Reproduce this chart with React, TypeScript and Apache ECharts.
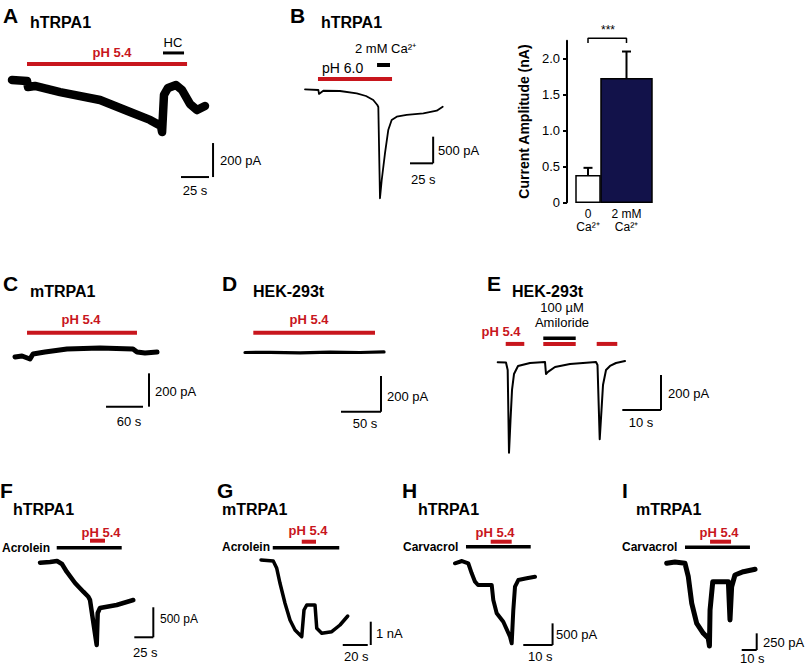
import React, { useEffect, useRef } from "react";
import * as echarts from "echarts";

const W = 805;
const H = 666;
const FONT = "'Liberation Sans', Arial, Helvetica, sans-serif";
const RED = "#c8161d";
const NAVY = "#12124a";

// ---------- Traces: [time (s), current (pA)] ----------
const traceA: [number, number][] = [[0, 6], [13.4, 0], [14.3, -35], [20.5, -29], [42.9, -65], [78.6, -112], [105.4, -182], [123.2, -229], [133, -265], [134, -300], [135.7, -82], [139.3, -41], [146.4, -24], [151.8, -53], [158.9, -135], [165.2, -171], [172.3, -147]];
const traceB: [number, number][] = [[0, 4], [14.5, -9], [15.2, -84], [19.9, -23], [38, -28], [56.2, -71], [66.3, -122], [74.2, -197], [78.6, -291], [79.7, -328], [81.5, -2041], [83.4, -1698], [87, -1191], [90.5, -760], [94.2, -572], [99.7, -510], [110.5, -478], [128.6, -447], [143.2, -398], [149.7, -323]];
const traceC: [number, number][] = [[0, 0], [11.4, 6], [24.3, -12], [29.2, 18], [48.6, 30], [84.3, 48], [137.8, 54], [191.3, 48], [197.8, 30], [210.8, 24], [230.3, 30]];
const traceD: [number, number][] = [[0, -1], [31.3, 0], [68.8, -3], [106.3, 1], [143.8, -1], [173.8, 2]];
const traceE: [number, number][] = [[0, 0], [2.14, -1], [2.58, -44], [2.92, -517], [3.31, -330], [3.7, -158], [4.21, -67], [5.25, -21], [8.35, -4], [12.22, 2], [12.48, -67], [13.0, -55], [14.81, -27], [18.68, -10], [25.4, 2], [25.79, -15], [26.36, -440], [26.82, -273], [27.21, -130], [27.99, -44], [29.02, -21], [30.57, -4], [32.89, 7]];
const traceF: [number, number][] = [[0, 0], [13.2, 12], [22.4, 28], [28.9, -22], [35.1, -150], [46.1, -338], [57, -483], [63.6, -567], [65.8, -622], [69.7, -955], [74.6, -1372], [75.9, -838], [78.9, -755], [100.9, -705], [122.8, -622]];
const traceG: [number, number][] = [[0, 13], [9.8, -30], [12.6, -343], [15.2, -987], [19.2, -1845], [23.2, -2562], [27.2, -2991], [32.6, -3279], [34.4, -2133], [36.6, -1918], [43.2, -1918], [44.6, -2918], [48.6, -3133], [56.6, -3064], [63.2, -2777], [69.4, -2391]];
const traceH: [number, number][] = [[0, 0], [2.39, 53], [4.54, 0], [5.7, -231], [6.83, -425], [7.85, -501], [12.53, -501], [13.07, -848], [14.23, -1155], [16.48, -1349], [18.77, -1695], [19.35, -1848], [19.9, -1079], [20.48, -540], [21.6, -386], [24.47, -346], [27.3, -309]];
const traceI: [number, number][] = [[0, 0], [5.5, 19], [12.2, 0], [14.4, -201], [16.7, -600], [20, -900], [24.4, -1049], [27.7, -1124], [28.5, -1240], [28.9, -700], [30.7, -276], [32.2, -276], [41.1, -276], [42.2, -850], [43.3, -351], [45.5, -175], [51.1, -126], [58.9, -90]];

// ---------- Application periods (s) ----------
const stimA_pH: [number, number] = [13.4, 156.3];
const stimA_HC: [number, number] = [134.8, 153.6];
const stimB_pH: [number, number] = [14.1, 94.6];
const stimB_Ca: [number, number] = [78.3, 92.4];
const stimC_pH: [number, number] = [19.5, 197.8];
const stimD_pH: [number, number] = [10.4, 162.5];
const stimE_pH1: [number, number] = [2.07, 6.87];
const stimE_pH2: [number, number] = [11.78, 20.16];
const stimE_Ami: [number, number] = [11.78, 20.16];
const stimE_pH3: [number, number] = [25.58, 30.9];
const stimF_pH: [number, number] = [65.8, 85.5];
const stimF_Acr: [number, number] = [22, 107.5];
const stimG_pH: [number, number] = [32.6, 44];
const stimG_Acr: [number, number] = [9.4, 62.6];
const stimH_pH: [number, number] = [12.18, 19.35];
const stimH_Car: [number, number] = [3.75, 25.84];
const stimI_pH: [number, number] = [28.9, 42.9];
const stimI_Car: [number, number] = [12.2, 55.5];

// ---------- Scale bars [s, pA] ----------
const scaleA: [number, number] = [25, 200];
const scaleB: [number, number] = [25, 500];
const scaleC: [number, number] = [60, 200];
const scaleD: [number, number] = [50, 200];
const scaleE: [number, number] = [10, 200];
const scaleF: [number, number] = [25, 500];
const scaleG: [number, number] = [20, 1000];
const scaleH: [number, number] = [10, 500];
const scaleI: [number, number] = [10, 250];

// ---------- Bar chart (panel B right) ----------
const barCategories = ["0\nCa²⁺", "2 mM\nCa²⁺"];
const barValues = [0.37, 1.72]; // nA
const barErrors = [0.11, 0.38]; // nA
const yTicks = [0, 0.5, 1.0, 1.5, 2.0];

// layout (positions / styles only)
type Stim = { span: [number, number]; level: number; color: string; width: number };
type Panel = { trace: [number, number][]; x0: number; y0: number; sx: number; sy: number; lw: number; stims: Stim[]; scale: [number, number]; hAt: [number, number]; vAt: [number, number] };

const panels: Panel[] = [
  { trace: traceA, x0: 12, y0: 81, sx: 1.12, sy: 0.17, lw: 8.5,
    stims: [{ span: stimA_pH, level: 100, color: RED, width: 4 }, { span: stimA_HC, level: 165, color: "#000", width: 3 }],
    scale: scaleA, hAt: [150.9, -565], vAt: [179.5, -565] },
  { trace: traceB, x0: 305, y0: 89.5, sx: 0.92, sy: 0.0533, lw: 1.8,
    stims: [{ span: stimB_pH, level: 197, color: RED, width: 4 }, { span: stimB_Ca, level: 460, color: "#000", width: 4 }],
    scale: scaleB, hAt: [114.1, -1385], vAt: [139.3, -1385] },
  { trace: traceC, x0: 15, y0: 357, sx: 0.6167, sy: 0.1667, lw: 5,
    stims: [{ span: stimC_pH, level: 146, color: RED, width: 4 }],
    scale: scaleC, hAt: [147.6, -298], vAt: [217.3, -298] },
  { trace: traceD, x0: 245, y0: 352.3, sx: 0.8, sy: 0.1785, lw: 3.2,
    stims: [{ span: stimD_pH, level: 110, color: RED, width: 4 }],
    scale: scaleD, hAt: [120, -333], vAt: [170, -333] },
  { trace: traceE, x0: 497.7, y0: 362.3, sx: 3.87, sy: 0.175, lw: 2,
    stims: [
      { span: stimE_pH1, level: 105, color: RED, width: 4 },
      { span: stimE_pH2, level: 105, color: RED, width: 4 },
      { span: stimE_Ami, level: 137, color: "#000", width: 3.5 },
      { span: stimE_pH3, level: 105, color: RED, width: 4 },
    ],
    scale: scaleE, hAt: [32.2, -272.6], vAt: [42.2, -272.6] },
  { trace: traceF, x0: 40, y0: 562.7, sx: 0.76, sy: 0.06, lw: 4.5,
    stims: [{ span: stimF_pH, level: 367, color: RED, width: 4 }, { span: stimF_Acr, level: 250, color: "#000", width: 3.5 }],
    scale: scaleF, hAt: [124.1, -1243], vAt: [149.1, -1243] },
  { trace: traceG, x0: 261, y0: 560.3, sx: 1.25, sy: 0.0233, lw: 3.5,
    stims: [{ span: stimG_pH, level: 798, color: RED, width: 4 }, { span: stimG_Acr, level: 541, color: "#000", width: 3.5 }],
    scale: scaleG, hAt: [65.4, -3635], vAt: [87.8, -3635] },
  { trace: traceH, x0: 455, y0: 563.3, sx: 2.93, sy: 0.0433, lw: 4,
    stims: [{ span: stimH_pH, level: 499, color: RED, width: 4 }, { span: stimH_Car, level: 383, color: "#000", width: 3.5 }],
    scale: scaleH, hAt: [23.3, -1887], vAt: [33.3, -1887] },
  { trace: traceI, x0: 666.7, y0: 563.3, sx: 1.5, sy: 0.0667, lw: 5,
    stims: [{ span: stimI_pH, level: 324, color: RED, width: 4 }, { span: stimI_Car, level: 240, color: "#000", width: 3.5 }],
    scale: scaleI, hAt: [50, -1300], vAt: [60, -1300] },
];

function txt(text: string, x: number, y: number, opt: { size?: number; bold?: boolean; color?: string; align?: string; family?: string } = {}) {
  const size = opt.size ?? 13;
  return {
    type: "text",
    x,
    y,
    silent: true,
    style: {
      text,
      fill: opt.color ?? "#000",
      font: `${opt.bold ? "bold " : ""}${size}px ${opt.family ?? FONT}`,
      align: opt.align ?? "left",
      verticalAlign: "middle",
    },
  };
}

const letter = (s: string, x: number, y: number) => txt(s, x, y, { size: 21, bold: true });
const title = (s: string, x: number, y: number) => txt(s, x, y, { size: 16, bold: true });
const phLabel = (x: number, y: number) => txt("pH 5.4", x, y, { bold: true, color: RED, align: "center" });

export default function App() {
  const ref = useRef<HTMLDivElement>(null);
  useEffect(() => {
    if (!ref.current) return;
    const chart = echarts.init(ref.current, null, { renderer: "svg" });
    const grids: any[] = [];
    const xAxes: any[] = [];
    const yAxes: any[] = [];
    const series: any[] = [];

    panels.forEach((p, i) => {
      grids.push({ left: 0, top: 0, width: W, height: H, show: false });
      xAxes.push({ type: "value", gridIndex: i, min: -p.x0 / p.sx, max: (W - p.x0) / p.sx, show: false });
      yAxes.push({ type: "value", gridIndex: i, min: -(H - p.y0) / p.sy, max: p.y0 / p.sy, show: false });
      const base = { type: "line", xAxisIndex: i, yAxisIndex: i, symbol: "none", clip: false, silent: true };
      series.push({ ...base, data: p.trace, lineStyle: { color: "#000", width: p.lw, join: "round", cap: "round" } });
      p.stims.forEach((s) =>
        series.push({ ...base, data: [[s.span[0], s.level], [s.span[1], s.level]], lineStyle: { color: s.color, width: s.width, cap: "butt" } })
      );
      series.push({ ...base, data: [[p.hAt[0], p.hAt[1]], [p.hAt[0] + p.scale[0], p.hAt[1]]], lineStyle: { color: "#000", width: 2, cap: "butt" } });
      series.push({ ...base, data: [[p.vAt[0], p.vAt[1]], [p.vAt[0], p.vAt[1] + p.scale[1]]], lineStyle: { color: "#000", width: 2, cap: "butt" } });
    });

    // bar chart
    const bi = panels.length;
    const barWidths = [24, 51];
    const barFills = ["#ffffff", NAVY];
    grids.push({ left: 568.75, top: 40.75, width: 77, height: 161.55, show: false });
    xAxes.push({
      type: "category",
      gridIndex: bi,
      data: barCategories,
      axisLine: { show: false },
      axisTick: { show: false },
      axisLabel: { margin: 5, fontSize: 12, lineHeight: 13, color: "#000", fontFamily: FONT, interval: 0 },
    });
    yAxes.push({
      type: "value",
      gridIndex: bi,
      min: 0,
      max: 2.25,
      offset: 1.75,
      name: "Current Amplitude (nA)",
      nameLocation: "middle",
      nameRotate: 90,
      nameGap: 36,
      nameTextStyle: { fontFamily: FONT, fontSize: 14, fontWeight: "bold", color: "#000" },
      axisLine: { show: true, lineStyle: { color: "#000", width: 2 } },
      axisTick: { show: true, length: 4, customValues: yTicks, lineStyle: { color: "#000", width: 2 } },
      axisLabel: {
        customValues: yTicks,
        margin: 7,
        fontSize: 13,
        color: "#000",
        fontFamily: FONT,
        formatter: (v: number) => (v === 0 ? "0" : v.toFixed(1)),
      },
      splitLine: { show: false },
    });
    series.push({
      type: "custom",
      xAxisIndex: bi,
      yAxisIndex: bi,
      clip: false,
      silent: true,
      encode: { x: 0, y: 1 },
      data: barValues.map((v, i) => [i, v, barErrors[i]]),
      renderItem: (params: any, api: any) => {
        const idx = api.value(0);
        const v = api.value(1);
        const e = api.value(2);
        const b = api.coord([idx, 0]);
        const t = api.coord([idx, v]);
        const et = api.coord([idx, v + e]);
        const w = barWidths[params.dataIndex];
        return {
          type: "group",
          children: [
            { type: "line", shape: { x1: t[0], y1: t[1], x2: et[0], y2: et[1] }, style: { stroke: "#000", lineWidth: 2 } },
            { type: "line", shape: { x1: et[0] - 4.5, y1: et[1], x2: et[0] + 4.5, y2: et[1] }, style: { stroke: "#000", lineWidth: 2 } },
            { type: "rect", shape: { x: b[0] - w / 2, y: t[1], width: w, height: b[1] - t[1] }, style: { fill: barFills[params.dataIndex], stroke: "#000", lineWidth: 1.5 } },
          ],
        };
      },
    });
    // significance bracket
    series.push({
      type: "line",
      xAxisIndex: bi,
      yAxisIndex: bi,
      symbol: "none",
      clip: false,
      silent: true,
      data: [[0, 2.22], [0, 2.285], [1, 2.285], [1, 2.22]],
      lineStyle: { color: "#000", width: 1.5 },
    });

    const graphic: any[] = [
      // A
      letter("A", 3, 15), title("hTRPA1", 30, 22), phLabel(112, 52),
      txt("HC", 173, 42, { align: "center" }), txt("200 pA", 220, 160), txt("25 s", 195, 190, { align: "center" }),
      // B
      letter("B", 290, 15), title("hTRPA1", 321, 22),
      txt("2 mM Ca²⁺", 355, 48), txt("pH 6.0", 322, 68, { size: 14 }),
      txt("500 pA", 438, 150), txt("25 s", 411, 179), txt("***", 608, 30, { align: "center", size: 12 }),
      // C
      letter("C", 3, 283), title("mTRPA1", 30, 291), phLabel(81, 319),
      txt("200 pA", 155, 391), txt("60 s", 129, 421, { align: "center" }),
      // D
      letter("D", 222, 283), title("HEK-293t", 253, 291), phLabel(309, 319),
      txt("200 pA", 387, 396), txt("50 s", 365, 423, { align: "center" }),
      // E
      letter("E", 487, 283), title("HEK-293t", 512, 291), phLabel(501, 331),
      txt("100 µM", 562, 307, { align: "center" }), txt("Amiloride", 562, 322, { align: "center" }),
      txt("200 pA", 668, 393), txt("10 s", 641, 422, { align: "center" }),
      // F
      letter("F", 0, 490), title("hTRPA1", 13, 509), phLabel(101, 532),
      txt("Acrolein", 2, 548, { bold: true, size: 12 }),
      txt("500 pA", 160, 619, { size: 12, family: "'Liberation Sans Narrow', 'Liberation Sans', Arial, sans-serif" }),
      txt("25 s", 133, 652),
      // G
      letter("G", 217, 490), title("mTRPA1", 222, 509), phLabel(308, 530),
      txt("Acrolein", 222, 547, { bold: true, size: 12 }), txt("1 nA", 376, 633), txt("20 s", 344, 656),
      // H
      letter("H", 402, 490), title("hTRPA1", 418, 509), phLabel(495, 532),
      txt("Carvacrol", 403, 547, { bold: true, size: 12 }), txt("500 pA", 556, 634), txt("10 s", 528, 656),
      // I
      letter("I", 622, 490), title("mTRPA1", 636, 509), phLabel(719, 532),
      txt("Carvacrol", 622, 547, { bold: true, size: 12 }), txt("250 pA", 763, 642), txt("10 s", 740, 658),
    ];

    chart.setOption({
      animation: false,
      backgroundColor: "#ffffff",
      grid: grids,
      xAxis: xAxes,
      yAxis: yAxes,
      series,
      graphic,
    });
    return () => chart.dispose();
  }, []);

  return <div ref={ref} style={{ position: "absolute", left: 0, top: 0, width: W, height: H }} />;
}
